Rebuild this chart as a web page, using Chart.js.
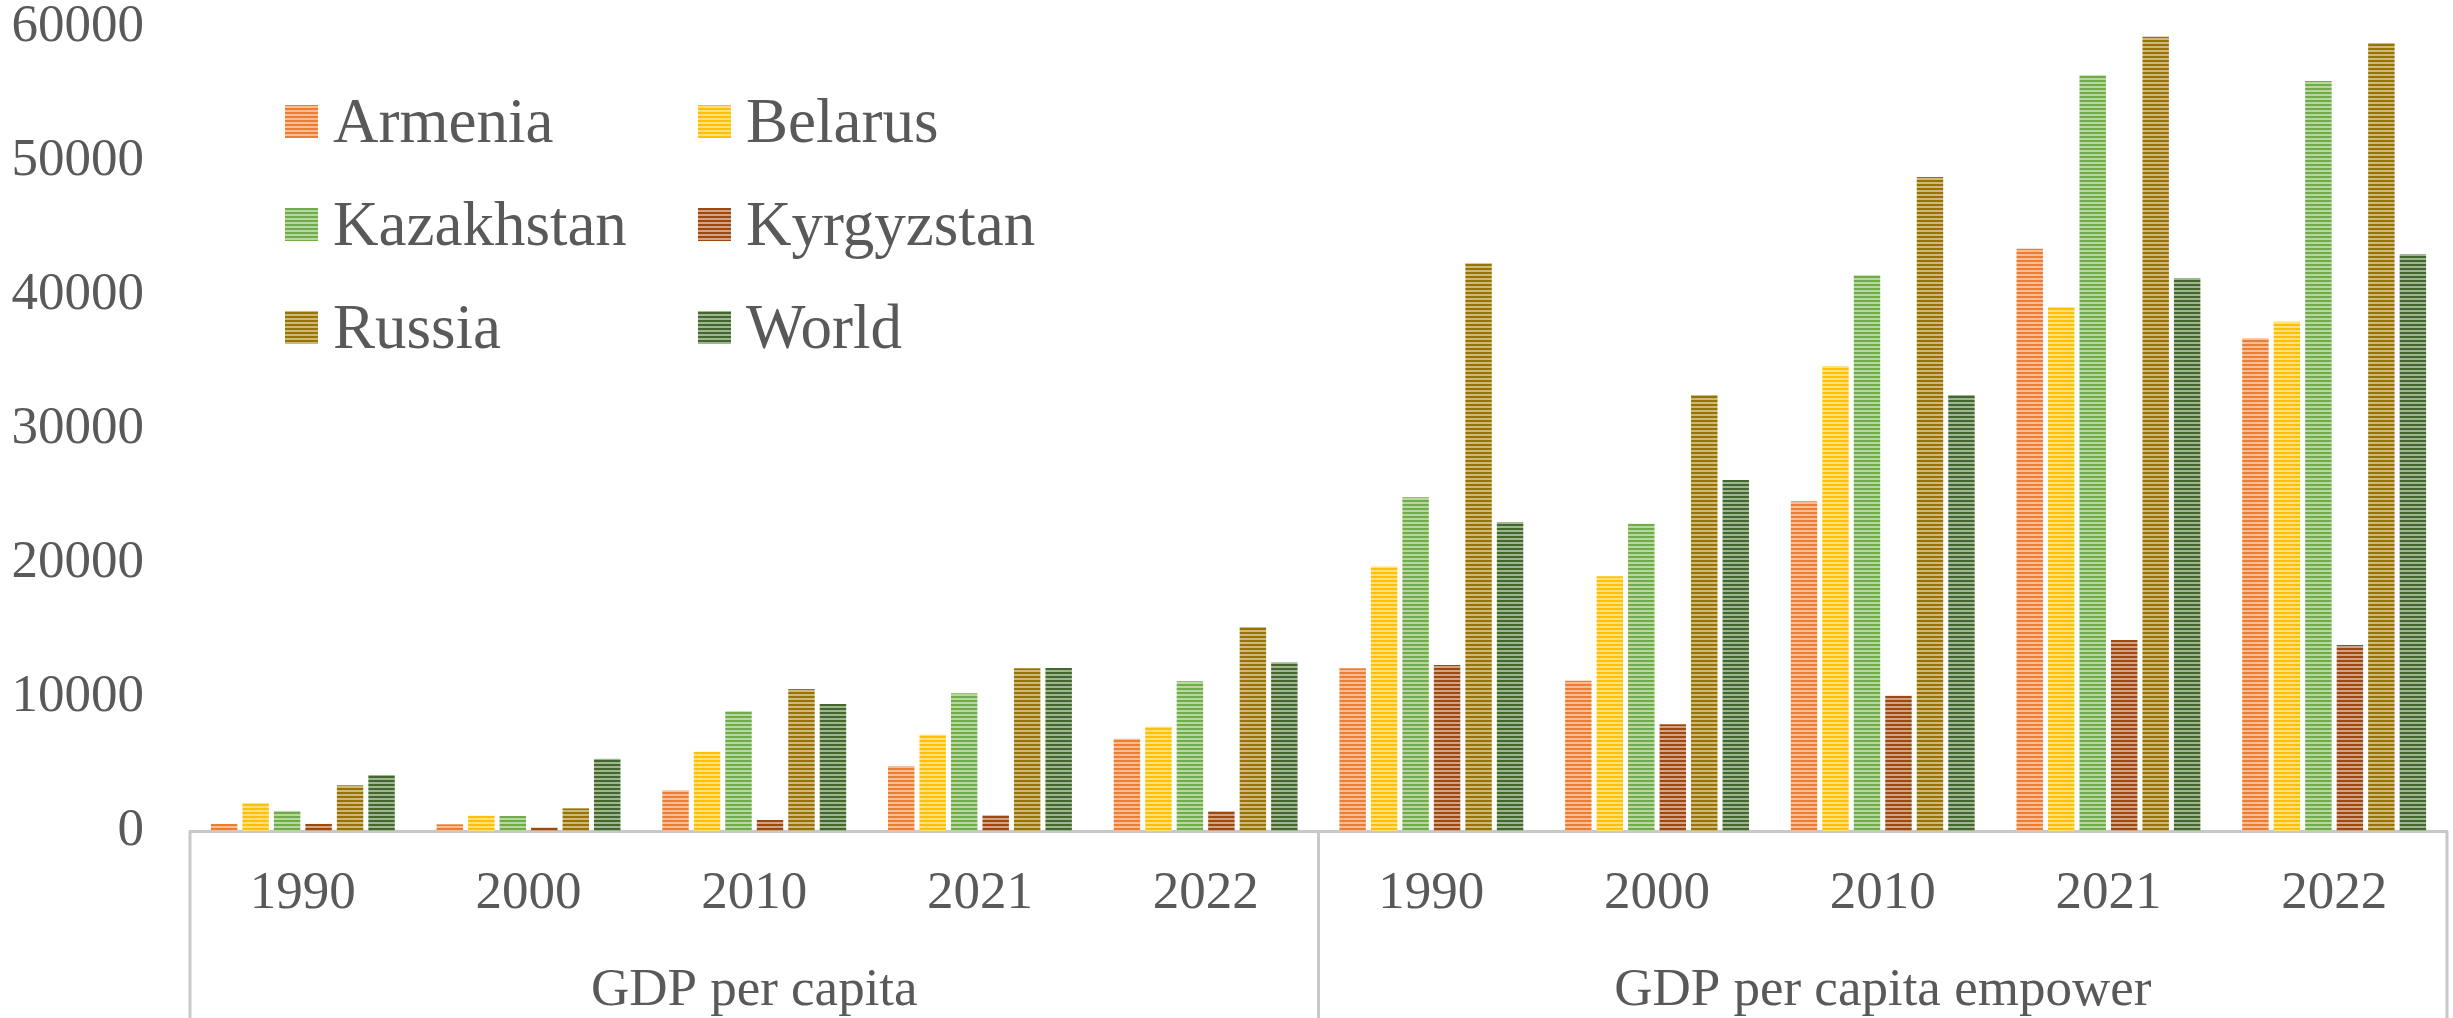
<!DOCTYPE html>
<html>
<head>
<meta charset="utf-8">
<script src="https://cdn.jsdelivr.net/npm/chart.js@4.4.1/dist/chart.umd.min.js"></script>
<style>
  html, body { margin: 0; padding: 0; background: #ffffff; }
  #wrap { width: 2453px; height: 1018px; }
</style>
</head>
<body>
<div id="wrap"><canvas id="c" width="2453" height="1018"></canvas></div>
<script>
// ---------- data ----------
const years = ['1990', '2000', '2010', '2021', '2022', '1990', '2000', '2010', '2021', '2022'];
const groupLabels = ['GDP per capita', 'GDP per capita empower'];
const groupSizes = [5, 5];
const seriesNames = ['Armenia', 'Belarus', 'Kazakhstan', 'Kyrgyzstan', 'Russia', 'World'];
const armenia    = [530, 500, 3040, 4850, 6890, 12140, 11220, 24600, 43460, 36770];
const belarus    = [2100, 1140, 5920, 7190, 7785, 19730, 19010, 34700, 39100, 38010];
const kazakhstan = [1500, 1120, 8930, 10275, 11170, 24900, 22935, 41470, 56400, 55970];
const kyrgyzstan = [530, 250, 820, 1170, 1470, 12390, 7960, 10100, 14255, 13880];
const russia     = [3410, 1690, 10600, 12140, 15225, 42370, 32540, 48810, 59280, 58810];
const world      = [4180, 5400, 9480, 12165, 12590, 23060, 26195, 32540, 41270, 43060];
const yTicks = [0, 10000, 20000, 30000, 40000, 50000, 60000];

// ---------- styles ----------
const seriesColors = ['#ED7D31', '#FFC000', '#70AD47', '#9E480E', '#997300', '#43682B'];
const FONT = "'Liberation Serif', 'Times New Roman', serif";
const TEXT = '#595959';
const AXIS = '#C8C8C8';

function tint(hex, f) {
  const n = parseInt(hex.slice(1), 16);
  const r = (n >> 16) & 255, g = (n >> 8) & 255, b = n & 255;
  const m = v => Math.round(v + (255 - v) * f);
  return 'rgb(' + m(r) + ',' + m(g) + ',' + m(b) + ')';
}
function stripePattern(hex) {
  const c = document.createElement('canvas');
  c.width = 4; c.height = 4;
  const x = c.getContext('2d');
  x.fillStyle = tint(hex, 0.5);
  x.fillRect(0, 0, 4, 4);
  x.fillStyle = hex;
  x.fillRect(0, 0, 4, 2);
  return x.createPattern(c, 'repeat');
}

const seriesData = [armenia, belarus, kazakhstan, kyrgyzstan, russia, world];
const patterns = seriesColors.map(stripePattern);

const datasets = seriesNames.map((name, i) => ({
  label: name,
  data: seriesData[i],
  backgroundColor: patterns[i],
  borderWidth: 0,
  categoryPercentage: 0.837,
  barPercentage: 0.84
}));

// ---------- custom plugin: group axis row, dividers, legend ----------
const decor = {
  id: 'decor',
  afterDraw(chart) {
    const ctx = chart.ctx;
    const xs = chart.scales.x;
    const area = chart.chartArea;
    const H = chart.height;
    const bounds = [xs.left];
    let idx = 0;
    groupSizes.forEach((s, gi) => {
      idx += s;
      if (gi < groupSizes.length - 1) {
        bounds.push((xs.getPixelForValue(idx - 1) + xs.getPixelForValue(idx)) / 2);
      }
    });
    bounds.push(xs.right);
    ctx.save();
    ctx.strokeStyle = AXIS;
    ctx.lineWidth = 3;
    bounds.forEach(b => {
      ctx.beginPath();
      ctx.moveTo(b, area.bottom);
      ctx.lineTo(b, H);
      ctx.stroke();
    });
    ctx.fillStyle = TEXT;
    ctx.font = '53px ' + FONT;
    ctx.textAlign = 'center';
    ctx.textBaseline = 'alphabetic';
    groupLabels.forEach((g, gi) => {
      ctx.fillText(g, (bounds[gi] + bounds[gi + 1]) / 2, 1005);
    });
    const colX = [285, 698];
    const rowTop = [105, 208, 311];
    ctx.font = '63px ' + FONT;
    ctx.textAlign = 'left';
    seriesNames.forEach((name, i) => {
      const col = i % 2, row = Math.floor(i / 2);
      const sx = colX[col], sy = rowTop[row];
      ctx.fillStyle = patterns[i];
      ctx.fillRect(sx, sy, 33, 33);
      ctx.fillStyle = TEXT;
      ctx.fillText(name, sx + 48, sy + 37);
    });
    ctx.restore();
  }
};

new Chart(document.getElementById('c'), {
  type: 'bar',
  data: { labels: years, datasets },
  options: {
    responsive: false,
    animation: false,
    devicePixelRatio: 1,
    layout: { padding: { top: 27, right: 6, left: 0, bottom: 0 } },
    plugins: { legend: { display: false }, tooltip: { enabled: false } },
    scales: {
      x: {
        z: 1,
        grid: { display: false, drawTicks: false },
        border: { display: true, color: AXIS, width: 3 },
        ticks: { color: TEXT, font: { family: FONT, size: 53 }, padding: 31, maxRotation: 0, autoSkip: false },
        afterFit(scale) { scale.height = 187; scale.paddingLeft = 0; scale.paddingRight = 0; }
      },
      y: {
        min: 0,
        max: 60000,
        afterBuildTicks(scale) { scale.ticks = yTicks.map(v => ({ value: v })); },
        grid: { display: false, drawTicks: false },
        border: { display: false },
        ticks: { color: TEXT, font: { family: FONT, size: 53 }, padding: 46, callback: v => String(v) },
        afterFit(scale) { scale.width = 190; scale.paddingTop = 0; scale.paddingBottom = 0; }
      }
    }
  },
  plugins: [decor]
});
</script>
</body>
</html>
